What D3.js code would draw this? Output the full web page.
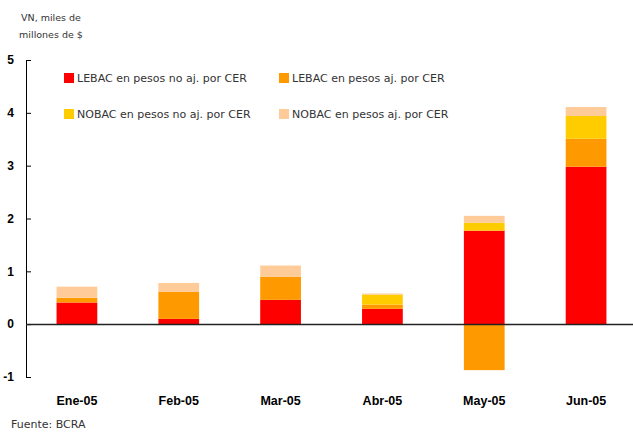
<!DOCTYPE html>
<html><head><meta charset="utf-8">
<script src="https://cdn.jsdelivr.net/npm/d3@7"></script>
<style>body{margin:0;background:#fff}svg{display:block}</style>
</head><body>
<svg id="c" width="633" height="432"></svg>
<script>
const categories = ["Ene-05","Feb-05","Mar-05","Abr-05","May-05","Jun-05"];
const seriesNames = ["LEBAC en pesos no aj. por CER","LEBAC en pesos aj. por CER","NOBAC en pesos no aj. por CER","NOBAC en pesos aj. por CER"];
const lebacNoCer = [0.41, 0.10, 0.46, 0.29, 1.77, 2.98];
const lebacCer   = [0.09, 0.51, 0.44, 0.08, -0.87, 0.53];
const nobacNoCer = [0.00, 0.00, 0.00, 0.19, 0.15, 0.43];
const nobacCer   = [0.21, 0.17, 0.21, 0.02, 0.13, 0.17];
const yTicks = [-1,0,1,2,3,4,5];
const colors = ["#ff0000","#ff9900","#ffcc00","#ffcc99"];

const svg = d3.select("#c");
const x = d3.scaleBand().domain(categories).range([26,637]).paddingInner(0.6).paddingOuter(0.3);
const y = d3.scaleLinear().domain([-1,5]).range([377,60]);

const series = [lebacNoCer, lebacCer, nobacNoCer, nobacCer];
const rows = categories.map((c,i)=>{const o={cat:c}; series.forEach((s,j)=>o["s"+j]=s[i]); return o;});
const stack = d3.stack().keys(series.map((_,j)=>"s"+j)).offset(d3.stackOffsetDiverging);
const stacked = stack(rows);

svg.append("g").selectAll("g").data(stacked).join("g")
  .attr("fill",(d,i)=>colors[i])
  .selectAll("rect").data(d=>d).join("rect")
  .attr("x",d=>x(d.data.cat))
  .attr("width",x.bandwidth())
  .attr("y",d=>y(Math.max(d[0],d[1])))
  .attr("height",d=>Math.abs(y(d[0])-y(d[1])));

// y axis
const yAxis = d3.axisRight(y).tickValues(yTicks).tickSize(5).tickFormat("");
const ga = svg.append("g").attr("transform","translate(26,0)").call(yAxis);
ga.select(".domain").attr("d","M0.5,60V377").attr("stroke","#000");
ga.selectAll(".tick line").attr("stroke","#000");
svg.append("g").selectAll("text").data(yTicks).join("text")
  .attr("x",14).attr("y",d=>y(d)).attr("dy","0.35em").attr("text-anchor","end")
  .attr("font-family","Liberation Sans, Arial, sans-serif").attr("font-weight","bold").attr("font-size",12)
  .text(d=>d);

// zero line
svg.append("line").attr("x1",26).attr("x2",633).attr("y1",Math.round(y(0))+0.5).attr("y2",Math.round(y(0))+0.5)
  .attr("stroke","#222").attr("stroke-width",1.5);

// x labels
const xAxis = d3.axisBottom(x).tickSize(0).tickPadding(0);
const gx = svg.append("g").attr("transform","translate(0,396)").call(xAxis);
gx.select(".domain").remove();
gx.selectAll("text").attr("font-family","Liberation Sans, Arial, sans-serif").attr("font-weight","bold").attr("font-size",12.5).attr("fill","#000");

// legend
const legPos = [[64,78],[279,78],[64,114],[279,114]];
const lg = svg.append("g").selectAll("g").data(seriesNames).join("g")
  .attr("transform",(d,i)=>`translate(${legPos[i][0]},${legPos[i][1]})`);
lg.append("rect").attr("x",0).attr("y",-5).attr("width",10).attr("height",10).attr("fill",(d,i)=>colors[i]);
lg.append("text").attr("x",13).attr("dy","0.36em").attr("font-family","DejaVu Sans, sans-serif").attr("font-size",11).attr("fill","#333").text(d=>d);

// y title
const tt = svg.append("text").attr("font-family","DejaVu Sans, sans-serif").attr("font-size",9.5).attr("fill","#333").attr("text-anchor","middle");
tt.append("tspan").attr("x",51).attr("y",21).text("VN, miles de");
tt.append("tspan").attr("x",51).attr("y",38).text("millones de $");

svg.append("text").attr("x",11).attr("y",428).attr("font-family","DejaVu Sans, sans-serif").attr("font-size",11).attr("fill","#333").text("Fuente: BCRA");
</script>
</body></html>
